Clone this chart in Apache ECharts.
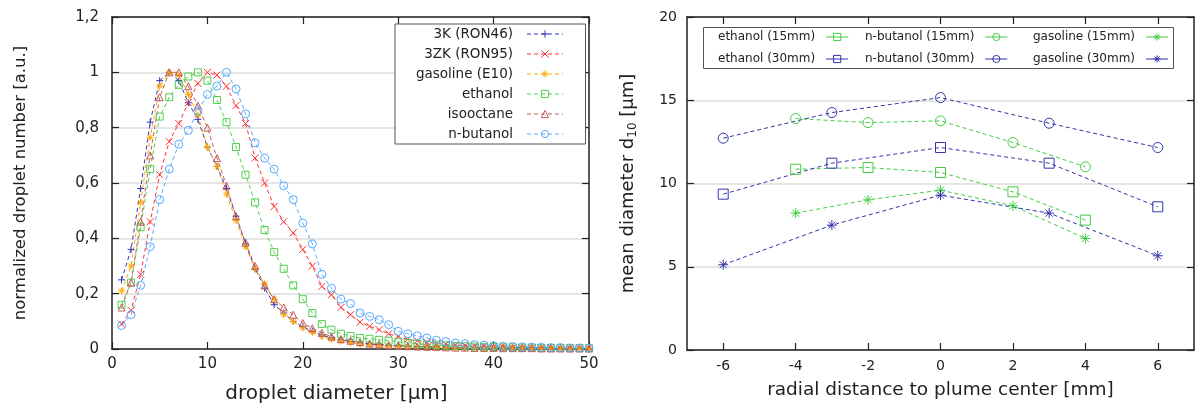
<!DOCTYPE html>
<html>
<head>
<meta charset="utf-8">
<script src="https://cdn.jsdelivr.net/npm/echarts@6/dist/echarts.min.js"></script>
<style>
html,body{margin:0;padding:0;background:#fff;}
#chart{width:1195px;height:412px;}
</style>
</head>
<body>
<div id="chart"></div>
<script>
// ---------- Left panel data ----------
const diameters = [1,2,3,4,5,6,7,8,9,10,11,12,13,14,15,16,17,18,19,20,21,22,23,24,25,26,27,28,29,30,31,32,33,34,35,36,37,38,39,40,41,42,43,44,45,46,47,48,49,50];
const ron46 = [0.25,0.36,0.58,0.82,0.97,1.00,0.97,0.89,0.83,0.73,
  0.66,0.58,0.48,0.38,0.29,0.22,0.16,0.13,0.10,0.08,
  0.065,0.05,0.04,0.033,0.027,0.022,0.018,0.015,0.013,0.011,
  0.010,0.009,0.008,0.007,0.006,0.006,0.005,0.005,0.004,0.004,
  0.004,0.003,0.003,0.003,0.003,0.002,0.002,0.002,0.002,0.002];
const ron95 = [0.09,0.14,0.27,0.46,0.63,0.75,0.815,0.89,0.96,1.00,
  0.99,0.95,0.88,0.815,0.69,0.60,0.515,0.46,0.42,0.36,
  0.30,0.226,0.196,0.15,0.124,0.097,0.082,0.07,0.055,0.045,
  0.035,0.03,0.025,0.02,0.017,0.014,0.012,0.010,0.009,0.008,
  0.007,0.006,0.005,0.005,0.004,0.004,0.003,0.003,0.003,0.002];
const gasolineE10 = [0.21,0.30,0.53,0.765,0.95,1.00,0.99,0.92,0.845,0.73,
  0.66,0.56,0.465,0.37,0.29,0.235,0.18,0.124,0.10,0.076,
  0.06,0.045,0.035,0.028,0.022,0.018,0.015,0.012,0.010,0.009,
  0.008,0.007,0.006,0.005,0.005,0.004,0.004,0.003,0.003,0.003,
  0.003,0.002,0.002,0.002,0.002,0.002,0.001,0.001,0.001,0.001];
const ethanolDist = [0.16,0.24,0.44,0.65,0.84,0.91,0.955,0.985,1.00,0.97,
  0.90,0.82,0.73,0.63,0.53,0.43,0.35,0.29,0.23,0.18,
  0.13,0.09,0.07,0.055,0.047,0.04,0.037,0.033,0.03,0.026,
  0.022,0.019,0.016,0.014,0.012,0.011,0.010,0.009,0.008,0.007,
  0.006,0.006,0.005,0.005,0.004,0.004,0.004,0.003,0.003,0.003];
const isooctaneDist = [0.15,0.24,0.46,0.70,0.91,1.00,1.00,0.95,0.88,0.80,
  0.69,0.59,0.48,0.385,0.30,0.23,0.18,0.15,0.124,0.094,
  0.075,0.058,0.045,0.036,0.03,0.025,0.02,0.017,0.014,0.012,
  0.010,0.009,0.008,0.007,0.006,0.005,0.005,0.004,0.004,0.004,
  0.003,0.003,0.003,0.003,0.002,0.002,0.002,0.002,0.002,0.002];
const nbutanolDist = [0.085,0.124,0.23,0.37,0.54,0.65,0.74,0.79,0.86,0.92,
  0.95,1.00,0.94,0.85,0.745,0.69,0.65,0.59,0.54,0.455,
  0.38,0.27,0.22,0.18,0.164,0.13,0.118,0.106,0.088,0.064,
  0.055,0.048,0.04,0.032,0.027,0.022,0.019,0.016,0.014,0.012,
  0.010,0.009,0.008,0.007,0.006,0.005,0.005,0.004,0.004,0.003];
const leftNames = ['3K (RON46)','3ZK (RON95)','gasoline (E10)','ethanol','isooctane','n-butanol'];

// ---------- Right panel data ----------
const pos15 = [-4,-2,0,2,4];
const pos30 = [-6,-3,0,3,6];
const ethanol15 = [10.86,10.96,10.66,9.5,7.8];
const ethanol30 = [9.36,11.22,12.16,11.22,8.6];
const nbutanol15 = [13.9,13.66,13.76,12.46,11.0];
const nbutanol30 = [12.72,14.26,15.16,13.62,12.16];
const gasoline15 = [8.22,9.02,9.6,8.66,6.7];
const gasoline30 = [5.12,7.5,9.3,8.22,5.66];
const rightTicks = [-6,-4,-2,0,2,4,6];

// ---------- styling ----------
const FONT = 'DejaVu Sans';
const TXT = '#222';
const AX = '#222';
const SYM_PLUS = 'path://M0,5L10,5M5,0L5,10';
const SYM_X = 'path://M0,0L10,10M10,0L0,10';
const SYM_STAR = 'path://M0,5L10,5M5,0L5,10M1.5,1.5L8.5,8.5M8.5,1.5L1.5,8.5';
const SYM_RECT = 'path://M0,0L10,0L10,10L0,10Z';
const SYM_CIRC = 'circle';
const SYM_TRI = 'path://M5,0L10,9L0,9Z';

function pairs(xs, ys){ return xs.map((x,i)=>[x, ys[i]]); }

function lineSeries(name, data, color, symbol, size, xi, yi, dash){
  return {
    name, type:'line', data, xAxisIndex:xi, yAxisIndex:yi,
    symbol, symbolSize:size, showSymbol:true,
    lineStyle:{color, width:1, type:dash},
    itemStyle:{color:'rgba(255,255,255,0)', borderColor:color, borderWidth:1},
    emphasis:{disabled:true}, z:3
  };
}

const leftColors = ['#3434c0','#ff3030','#ffa800','#4fcf4f','#c45c58','#55aaff'];
const leftData = [ron46, ron95, gasolineE10, ethanolDist, isooctaneDist, nbutanolDist];
const leftSyms = [SYM_PLUS, SYM_X, SYM_STAR, SYM_RECT, SYM_TRI, SYM_CIRC];
const leftSizes = [7,7,7,7,7,8];

const series = [];
leftNames.forEach((n,i)=>{
  series.push(lineSeries(n, pairs(diameters, leftData[i]), leftColors[i], leftSyms[i], leftSizes[i], 0, 0, [4,3]));
});
const G = '#44cc44', B = '#3333aa';
const rightDefs = [
  ['ethanol (15mm)', pos15, ethanol15, G, SYM_RECT],
  ['n-butanol (15mm)', pos15, nbutanol15, G, SYM_CIRC],
  ['gasoline (15mm)', pos15, gasoline15, G, SYM_STAR],
  ['ethanol (30mm)', pos30, ethanol30, B, SYM_RECT],
  ['n-butanol (30mm)', pos30, nbutanol30, B, SYM_CIRC],
  ['gasoline (30mm)', pos30, gasoline30, B, SYM_STAR]
];
rightDefs.forEach(d=>{
  series.push(lineSeries(d[0], pairs(d[1], d[2]), d[3], d[4], 10, 2, 2, [4,3]));
});

function frameAxis(gridIndex, position, min, max, interval, customTicks){
  const a = {
    type:'value', gridIndex, position, min, max,
    axisLine:{show:true, onZero:false, lineStyle:{color:AX, width:1.5}},
    axisTick:{show:true, inside:true, length:7, lineStyle:{color:AX, width:1.2}},
    axisLabel:{show:false}, splitLine:{show:false}
  };
  if (customTicks) { a.axisTick.customValues = customTicks; a.interval = 1; }
  else a.interval = interval;
  return a;
}

function rightLegend(names, left){
  return { data:names, orient:'vertical', align:'right', left, top:30,
    padding:0, itemGap:8, itemWidth:22, itemHeight:9,
    textStyle:{color:TXT, fontSize:12, fontFamily:FONT, lineHeight:14, padding:[0,6,0,0]},
    itemStyle:{borderWidth:1},
    lineStyle:{type:'solid', width:1}, z:10 };
}

const option = {
  animation:false,
  backgroundColor:'#fff',
  textStyle:{fontFamily:FONT},
  grid:[
    {left:112, top:17, width:477, height:332},
    {left:687, top:17, width:507, height:333}
  ],
  xAxis:[
    { type:'value', gridIndex:0, position:'bottom', min:0, max:50, interval:10,
      axisLine:{show:true, onZero:false, lineStyle:{color:AX, width:1.5}},
      axisTick:{show:true, inside:true, length:7, lineStyle:{color:AX, width:1.2}},
      axisLabel:{color:TXT, fontSize:15, fontFamily:FONT, margin:8},
      splitLine:{show:false},
      name:'droplet diameter [µm]', nameLocation:'middle', nameGap:35,
      nameTextStyle:{color:TXT, fontSize:20, fontFamily:FONT, padding:[0,28,0,0]} },
    frameAxis(0,'top',0,50,10),
    { type:'value', gridIndex:1, position:'bottom', min:-7, max:7, interval:1,
      axisLine:{show:true, onZero:false, lineStyle:{color:AX, width:1.5}},
      axisTick:{show:true, inside:true, length:7, customValues:rightTicks, lineStyle:{color:AX, width:1.2}},
      axisLabel:{color:TXT, fontSize:14, fontFamily:FONT, margin:9, customValues:rightTicks},
      splitLine:{show:false},
      name:'radial distance to plume center [mm]', nameLocation:'middle', nameGap:31,
      nameTextStyle:{color:TXT, fontSize:18.5, fontFamily:FONT} },
    frameAxis(1,'top',-7,7,null,rightTicks)
  ],
  yAxis:[
    { type:'value', gridIndex:0, position:'left', min:0, max:1.2, interval:0.2,
      axisLine:{show:true, onZero:false, lineStyle:{color:AX, width:1.5}},
      axisTick:{show:true, inside:true, length:7, lineStyle:{color:AX, width:1.2}},
      axisLabel:{color:TXT, fontSize:15, fontFamily:FONT, margin:13,
        formatter:v=>String(+v.toFixed(1)).replace('.',',')},
      splitLine:{show:true, lineStyle:{color:'#dcdcdc', width:1.5}},
      name:'normalized droplet number [a.u.]', nameLocation:'middle', nameGap:83, nameRotate:90,
      nameTextStyle:{color:TXT, fontSize:16.5, fontFamily:FONT} },
    frameAxis(0,'right',0,1.2,0.2),
    { type:'value', gridIndex:1, position:'left', min:0, max:20, interval:5,
      axisLine:{show:true, onZero:false, lineStyle:{color:AX, width:1.5}},
      axisTick:{show:true, inside:true, length:7, lineStyle:{color:AX, width:1.2}},
      axisLabel:{color:TXT, fontSize:14, fontFamily:FONT, margin:10},
      splitLine:{show:true, lineStyle:{color:'#dcdcdc', width:1.5}},
      name:'mean diameter d{sub|10} [µm]', nameLocation:'middle', nameGap:48, nameRotate:90,
      nameTextStyle:{color:TXT, fontSize:18, fontFamily:FONT,
        rich:{sub:{fontSize:12, fontFamily:FONT, color:TXT, verticalAlign:'bottom', padding:[10,0,0,0]}}} },
    frameAxis(1,'right',0,20,5)
  ],
  legend:[
    { data:leftNames, orient:'vertical', align:'right', left:395, top:24,
      padding:[3,22,3,18], itemGap:6, itemWidth:36, itemHeight:9,
      backgroundColor:'#fff', borderColor:'#555', borderWidth:1, borderRadius:0,
      textStyle:{color:TXT, fontSize:13.5, fontFamily:FONT, width:100, align:'right', lineHeight:14, padding:[0,9,0,0]},
      itemStyle:{borderWidth:1},
      lineStyle:{width:1}, z:10},
    rightLegend(['ethanol (15mm)','ethanol (30mm)'], 718),
    rightLegend(['n-butanol (15mm)','n-butanol (30mm)'], 865),
    rightLegend(['gasoline (15mm)','gasoline (30mm)'], 1033)
  ],
  graphic:[
    { type:'rect', left:703, top:27, shape:{width:470, height:41},
      style:{fill:'#fff', stroke:'#555', lineWidth:1}, z:5 }
  ],
  series
};

const chart = echarts.init(document.getElementById('chart'), null, {renderer:'canvas'});
chart.setOption(option);
</script>
</body>
</html>
